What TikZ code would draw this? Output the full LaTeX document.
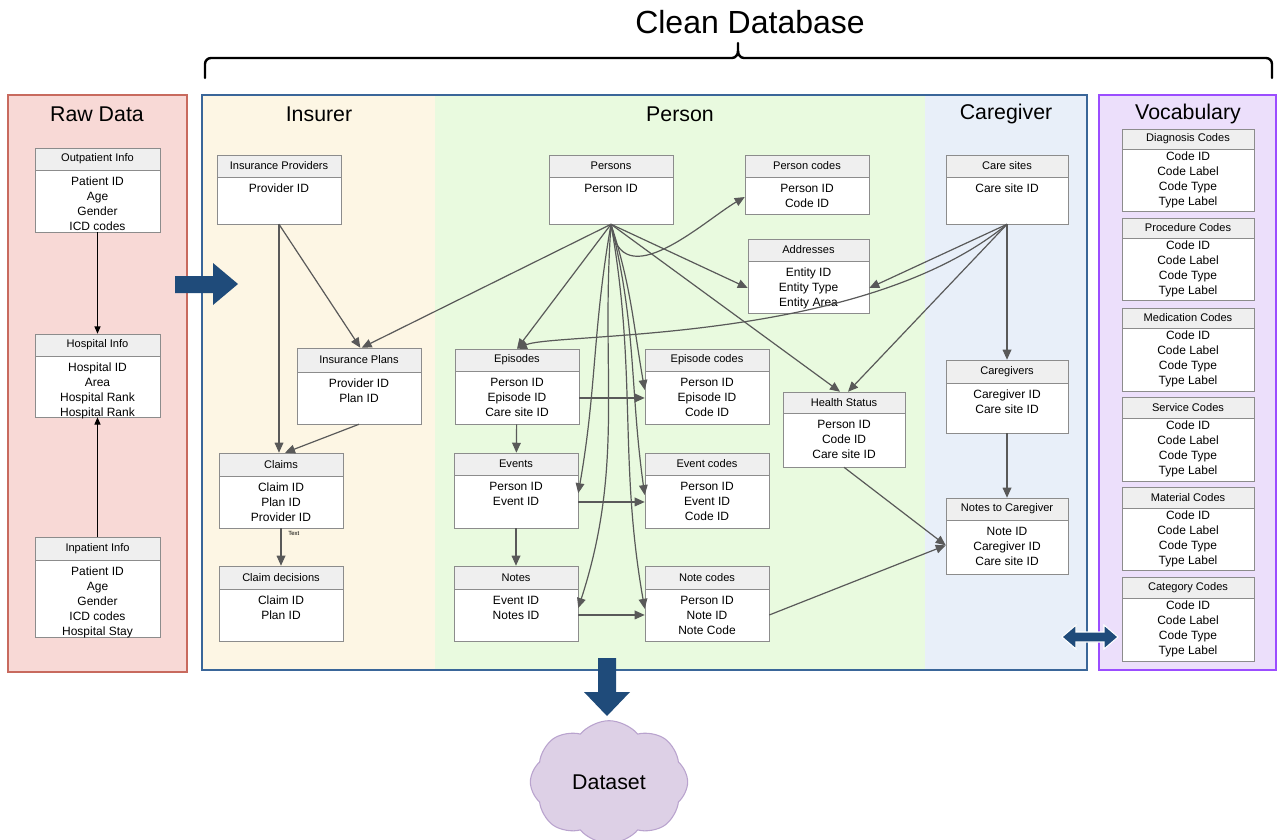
\documentclass[tikz,border=0pt]{standalone}
\usepackage{fontspec}
\setmainfont{Liberation Sans}
\usetikzlibrary{arrows.meta,fit,shapes.symbols}
\definecolor{rawfill}{HTML}{F8D9D6}
\definecolor{rawedge}{HTML}{C86A5E}
\definecolor{insfill}{HTML}{FDF6E4}
\definecolor{perfill}{HTML}{E9FADF}
\definecolor{cgfill}{HTML}{E8EFF9}
\definecolor{cleanedge}{HTML}{3A6699}
\definecolor{vocfill}{HTML}{ECDFFB}
\definecolor{vocedge}{HTML}{9B4DFF}
\definecolor{hdrgray}{HTML}{EFEFEF}
\definecolor{boxgray}{HTML}{8C8C8C}
\definecolor{conngray}{HTML}{595959}
\definecolor{bigblue}{HTML}{1F4B7A}
\definecolor{cloudfill}{HTML}{DDD0E6}
\definecolor{cloudedge}{HTML}{B9A3CE}
\tikzset{
  hdr/.style={fill=hdrgray, draw=boxgray, line width=0.7pt},
  bdy/.style={fill=white, draw=boxgray, line width=0.7pt},
  htxt/.style={font=\fontsize{8.3}{10}\selectfont, inner sep=0pt},
  btxt/.style={font=\fontsize{9}{11.25}\selectfont, align=center, inner sep=0pt, anchor=north},
  conn/.style={draw=conngray, line width=0.9pt, -{Triangle[length=7.5pt,width=6.5pt]}},
  rawconn/.style={draw=black, line width=0.9pt, -{Triangle[length=5.5pt,width=4.5pt]}},
  ptitle/.style={font=\fontsize{16}{18}\selectfont, inner sep=0pt},
  bigarrow/.style={fill=bigblue},
}
\def\bodyoff{6.5}
\newcommand{\tbl}[8]{%
  \path[bdy] (#2,#3) rectangle (#5,#6);
  \path[hdr] (#2,#3) rectangle (#5,#4);
  \node[fit={(#2,#3) (#5,#6)}, inner sep=0pt] (#1) {};
  \node[htxt] at ({(#2+#5)/2},{(#3+#4)/2}) {#7};
  \node[btxt] at ({(#2+#5)/2},{#4+\bodyoff}) {#8};
}
\begin{document}
\begin{tikzpicture}[x=0.75pt,y=-0.75pt]
\useasboundingbox (0,0) rectangle (1277,839);
\fill[white] (0,0) rectangle (1277,839);
% panels
\draw[rawedge, fill=rawfill, line width=1.2pt] (8,95) rectangle (187,672);
\fill[insfill] (202,95) rectangle (435,670);
\fill[perfill] (435,95) rectangle (925,670);
\fill[cgfill] (925,95) rectangle (1087,670);
\draw[cleanedge, line width=1.5pt] (202,95) rectangle (1087,670);
\draw[vocedge, fill=vocfill, line width=1.5pt] (1099,95) rectangle (1276,670);
% titles
\node[font=\fontsize{24}{28}\selectfont, inner sep=0pt] (cleantitle) at (750,22) {Clean Database};
\node[ptitle] (rawtitle) at (97,114) {Raw Data};
\node[ptitle] (institle) at (319,114) {Insurer};
\node[ptitle] (pertitle) at (680,114) {Person};
\node[ptitle] (cgtitle) at (1006,114) {Caregiver};
\node[ptitle] (voctitle) at (1188,114) {Vocabulary};
% brace
\draw[line width=1.8pt, line cap=round] (205,78) -- (205,64) to[out=90,in=180] (211,58) -- (732,58)
  to[out=0,in=-90] (738,51) -- (738,43);
\draw[line width=1.8pt, line cap=round] (738,51) to[out=-90,in=180] (744,58) -- (1266,58)
  to[out=0,in=90] (1272,64) -- (1272,78);
% raw data tables
\tbl{outp}{35}{148}{170}{160}{232}{Outpatient Info}{Patient ID\\Age\\Gender\\ICD codes}
\tbl{hosp}{35}{334}{356}{160}{417}{Hospital Info}{Hospital ID\\Area\\Hospital Rank\\Hospital Rank}
\tbl{inp}{35}{537}{560}{160}{637}{Inpatient Info}{Patient ID\\Age\\Gender\\ICD codes\\Hospital Stay}
% insurer
\tbl{iprov}{217}{155}{177}{341}{224}{Insurance Providers}{Provider ID}
\tbl{iplan}{297}{348}{372}{421}{424}{Insurance Plans}{Provider ID\\Plan ID}
\tbl{claims}{219}{453}{476}{343}{528}{Claims}{Claim ID\\Plan ID\\Provider ID}
\tbl{cdec}{219}{566}{589}{343}{641}{Claim decisions}{Claim ID\\Plan ID}
% person
\tbl{persons}{549}{155}{177}{673}{224}{Persons}{Person ID}
\tbl{pcodes}{745}{155}{177}{869}{214}{Person codes}{Person ID\\Code ID}
\tbl{addr}{748}{239}{261}{869}{313}{Addresses}{Entity ID\\Entity Type\\Entity Area}
\tbl{epis}{455}{349}{371}{579}{424}{Episodes}{Person ID\\Episode ID\\Care site ID}
\tbl{epcodes}{645}{349}{371}{769}{424}{Episode codes}{Person ID\\Episode ID\\Code ID}
\tbl{events}{454}{453}{475}{578}{528}{Events}{Person ID\\Event ID}
\tbl{evcodes}{645}{453}{475}{769}{528}{Event codes}{Person ID\\Event ID\\Code ID}
\tbl{notes}{454}{566}{589}{578}{641}{Notes}{Event ID\\Notes ID}
\tbl{ncodes}{645}{566}{589}{769}{641}{Note codes}{Person ID\\Note ID\\Note Code}
\tbl{health}{783}{392}{413}{905}{467}{Health Status}{Person ID\\Code ID\\Care site ID}
% caregiver
\tbl{csites}{946}{155}{177}{1068}{224}{Care sites}{Care site ID}
\tbl{cgivers}{946}{360}{383}{1068}{433}{Caregivers}{Caregiver ID\\Care site ID}
\tbl{ntc}{946}{498}{520}{1068}{574}{Notes to Caregiver}{Note ID\\Caregiver ID\\Care site ID}
% vocabulary
\def\bodyoff{3}
\tbl{diag}{1122}{129}{149}{1254}{211}{Diagnosis Codes}{Code ID\\Code Label\\Code Type\\Type Label}
\tbl{proc}{1122}{218}{238}{1254}{300}{Procedure Codes}{Code ID\\Code Label\\Code Type\\Type Label}
\tbl{medi}{1122}{308}{328}{1254}{391}{Medication Codes}{Code ID\\Code Label\\Code Type\\Type Label}
\tbl{serv}{1122}{397}{418}{1254}{481}{Service Codes}{Code ID\\Code Label\\Code Type\\Type Label}
\tbl{mate}{1122}{487}{508}{1254}{570}{Material Codes}{Code ID\\Code Label\\Code Type\\Type Label}
\tbl{cate}{1122}{577}{598}{1254}{661}{Category Codes}{Code ID\\Code Label\\Code Type\\Type Label}
% raw connectors
\draw[rawconn] (outp) -- (hosp);
\draw[rawconn] (inp) -- (hosp);
% insurer connectors
\draw[conn] (iprov.south) -- (claims.north -| iprov.south);
\draw[conn] (iprov.south) -- ([xshift=1pt]iplan.north);
\draw[conn] (iplan.south) -- ([xshift=3pt]claims.north);
\draw[conn] (claims) -- node[pos=0.15, anchor=west, xshift=5pt, inner sep=0pt, font=\fontsize{4.5}{5}\selectfont] {Text} (cdec);
% person connectors
\draw[conn] (persons.south) -- ([xshift=2pt]iplan.north);
\draw[conn] (persons.south) -- (epis.north);
\draw[conn] (persons.south) .. controls (620,300) and (705,220) .. ([yshift=-9.4pt]pcodes.west);
\draw[conn] (persons.south) -- ([yshift=-9pt]addr.west);
\draw[conn] (persons.south) -- ([xshift=-3pt]health.north);
\draw[conn] (persons.south) to[out=-72,in=100] ([yshift=-2.6pt]epcodes.west);
\draw[conn] (persons.south) to[out=-76,in=98] ([yshift=-3.4pt]evcodes.west);
\draw[conn] (persons.south) to[out=-80,in=100] ([yshift=-4pt]ncodes.west);
\draw[conn] (persons.south) to[out=-100,in=80] ([yshift=-2pt]events.east);
\draw[conn] (persons.south) to[out=-94,in=72] ([yshift=-3.4pt]notes.east);
\draw[conn] ([yshift=-8.6pt]epis.east) -- ([yshift=-8.6pt]epcodes.west);
\draw[conn] ([yshift=-8.6pt]events.east) -- ([yshift=-8.6pt]evcodes.west);
\draw[conn] ([yshift=-8.6pt]notes.east) -- ([yshift=-8.6pt]ncodes.west);
\draw[conn] (epis) -- (events);
\draw[conn] (events) -- (notes);
\draw[conn] ([yshift=-8.6pt]ncodes.east) -- ([yshift=-7pt]ntc.west);
\draw[conn] (health.south) -- ([yshift=-7pt]ntc.west);
% caregiver connectors
\draw[conn] (csites) -- (cgivers);
\draw[conn] (cgivers) -- (ntc);
\draw[conn] (csites.south) -- ([yshift=-9pt]addr.east);
\draw[conn] (csites.south) -- ([xshift=3pt]health.north);
\draw[conn] (csites.south) .. controls (860,345) and (555,332) .. (epis.north);
% big arrows
\fill[bigarrow] (175,276) -- (213,276) -- (213,263) -- (238,284) -- (213,305) -- (213,293) -- (175,293) -- cycle;
\fill[bigarrow] (598,658) -- (616,658) -- (616,692) -- (630,692) -- (607,716) -- (584,692) -- (598,692) -- cycle;
\filldraw[bigarrow, draw=white, line width=0.8pt] (1062,637) -- (1076,625) -- (1076,632) -- (1104,632) -- (1104,625) -- (1118,637) -- (1104,649) -- (1104,642) -- (1076,642) -- (1076,649) -- cycle;
% dataset cloud
\node[cloud, cloud puffs=8, cloud puff arc=100, aspect=1.2, fill=cloudfill, draw=cloudedge, line width=0.8pt,
  minimum width=118pt, minimum height=92pt, inner sep=0pt, font=\fontsize{16}{18}\selectfont] (ds) at (609,782) {Dataset};
\end{tikzpicture}
\end{document}
